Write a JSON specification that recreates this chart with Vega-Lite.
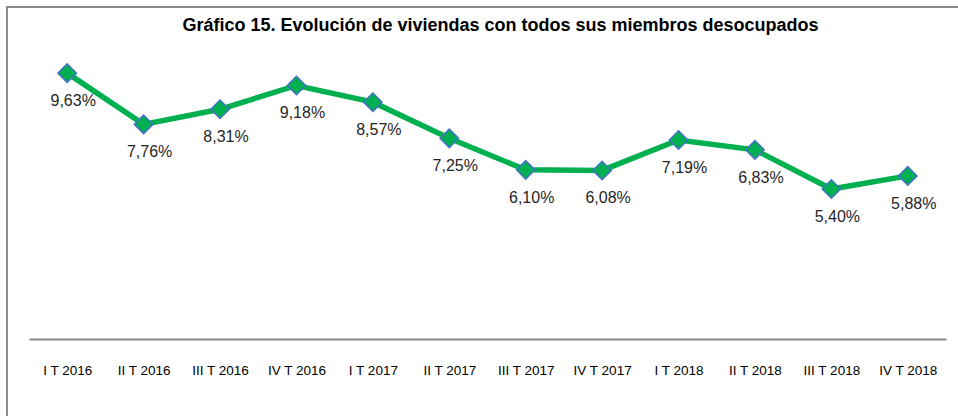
{
  "$schema": "https://vega.github.io/schema/vega-lite/v6.json",
  "autosize": "none",
  "padding": {"top": 7, "left": 7, "right": 0, "bottom": 0},
  "width": 957,
  "height": 415,
  "background": "white",
  "config": {
    "locale": {"number": {"decimal": ",", "thousands": ".", "grouping": [3], "currency": ["", " €"]}},
    "view": {"stroke": "#8c8c8c", "strokeWidth": 2},
    "font": "Liberation Sans"
  },
  "title": {
    "text": "Gráfico 15. Evolución de viviendas con todos sus miembros desocupados",
    "orient": "top",
    "anchor": "middle",
    "offset": -37,
    "baseline": "middle",
    "dx": 15,
    "fontSize": 18,
    "fontWeight": "bold",
    "font": "Liberation Sans",
    "color": "#000000"
  },
  "data": {
    "values": [
      {"trimestre": "I T 2016", "valor": 0.0963},
      {"trimestre": "II T 2016", "valor": 0.0776},
      {"trimestre": "III T 2016", "valor": 0.0831},
      {"trimestre": "IV T 2016", "valor": 0.0918},
      {"trimestre": "I T 2017", "valor": 0.0857},
      {"trimestre": "II T 2017", "valor": 0.0725},
      {"trimestre": "III T 2017", "valor": 0.0610},
      {"trimestre": "IV T 2017", "valor": 0.0608},
      {"trimestre": "I T 2018", "valor": 0.0719},
      {"trimestre": "II T 2018", "valor": 0.0683},
      {"trimestre": "III T 2018", "valor": 0.0540},
      {"trimestre": "IV T 2018", "valor": 0.0588}
    ]
  },
  "encoding": {
    "x": {
      "field": "trimestre",
      "type": "ordinal",
      "sort": null,
      "scale": {"type": "point", "range": [22, 939], "padding": 0.5},
      "axis": {
        "title": null,
        "orient": "bottom",
        "offset": -83,
        "labelAngle": 0,
        "ticks": false,
        "domainColor": "#888888",
        "domainWidth": 2,
        "labelPadding": 31,
        "labelBaseline": "middle",
        "labelFontSize": 13.5,
        "labelColor": "#000000",
        "labelFont": "Liberation Sans"
      }
    },
    "y": {
      "field": "valor",
      "type": "quantitative",
      "scale": {"domain": [0, 0.12], "range": [330, 1.2], "nice": false},
      "axis": null
    }
  },
  "layer": [
    {"mark": {"type": "line", "color": "#00B050", "strokeWidth": 5.5}},
    {"mark": {"type": "point", "shape": "diamond", "size": 340, "filled": true, "fill": "#00B050", "stroke": "#4472C4", "strokeWidth": 1.5, "opacity": 1}},
    {
      "mark": {"type": "text", "dy": 28, "dx": 6, "baseline": "middle", "fontSize": 16, "color": "#262626", "font": "Liberation Sans"},
      "encoding": {"text": {"field": "valor", "type": "quantitative", "format": ".2%"}}
    }
  ]
}
